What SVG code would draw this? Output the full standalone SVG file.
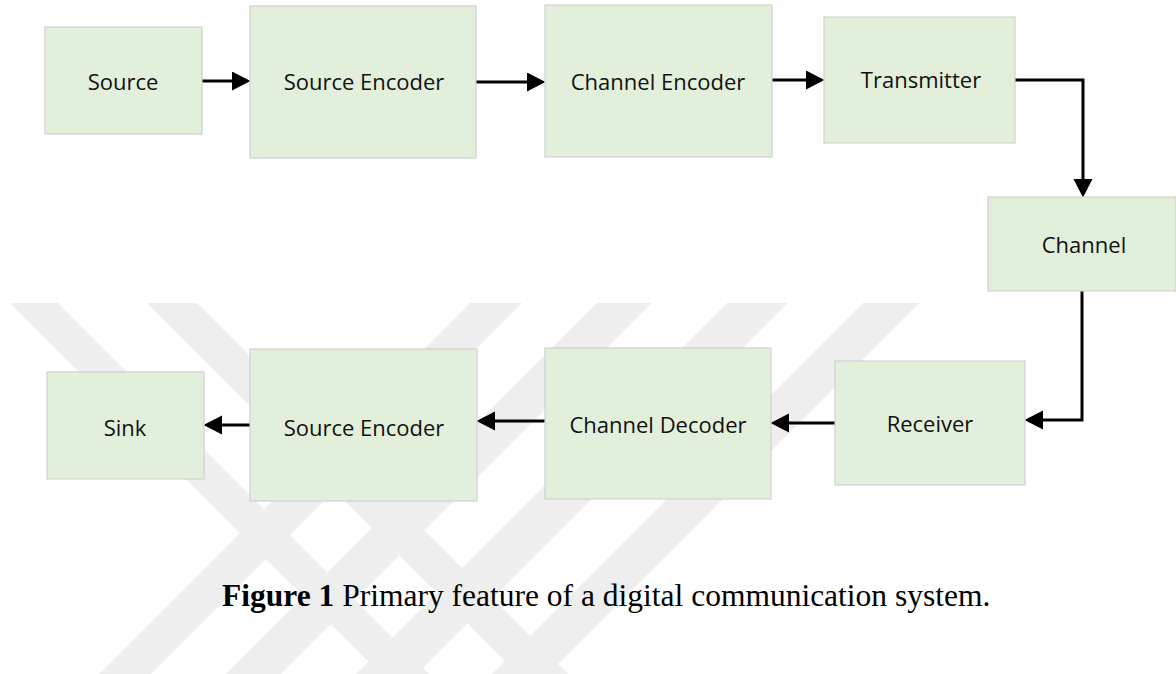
<svg xmlns="http://www.w3.org/2000/svg" width="1176" height="674" viewBox="0 0 1176 674">
  <style>
    .box { fill: #e2efda; stroke: #d0d0d0; stroke-width: 1.2; }
    .lbl { font-family: "Open Sans", "Noto Sans", sans-serif; font-size: 22px; fill: #111; text-anchor: middle; }
    .wire { fill: none; stroke: #000; stroke-width: 3; marker-end: url(#head); }
    .band { fill: #eeeeee; }
    .cap { font-family: "Liberation Serif", "Times New Roman", serif; font-size: 31.5px; fill: #000; }
  </style>
  <defs>
    <marker id="head" markerUnits="userSpaceOnUse" markerWidth="19" markerHeight="20" refX="0" refY="9.5" orient="auto">
      <path d="M0,0 L18.5,9.5 L0,19 Z" fill="#000"/>
    </marker>
  </defs>

  <rect width="1176" height="674" fill="#ffffff"/>

  <!-- background emblem: light diagonal stripes -->
  <g id="emblem">
    <polygon class="band" points="10,303 58,303 429,674 381,674"/>
    <polygon class="band" points="147,303 197,303 568,674 518,674"/>
    <polygon class="band" points="470,303 522,303 151,674 99,674"/>
    <polygon class="band" points="597,303 652,303 281,674 226,674"/>
    <polygon class="band" points="727,303 788,303 417,674 356,674"/>
    <polygon class="band" points="863,303 919,303 548,674 492,674"/>
  </g>

  <!-- connectors -->
  <g id="connectors">
    <path class="wire" d="M202,81 H232"/>
    <path class="wire" d="M476,82 H527"/>
    <path class="wire" d="M772,80 H806"/>
    <path class="wire" d="M1015,80 H1083 V179"/>
    <path class="wire" d="M1082,291 V420 H1043"/>
    <path class="wire" d="M835,423 H789"/>
    <path class="wire" d="M545,421 H495"/>
    <path class="wire" d="M250,425 H222"/>
  </g>

  <g id="source">
    <rect class="box" x="45" y="27" width="157" height="107"/>
    <text class="lbl" x="123" y="90">Source</text>
  </g>
  <g id="source-encoder">
    <rect class="box" x="250" y="6" width="226" height="152"/>
    <text class="lbl" x="364" y="90">Source Encoder</text>
  </g>
  <g id="channel-encoder">
    <rect class="box" x="545" y="5" width="227" height="152"/>
    <text class="lbl" x="658" y="90">Channel Encoder</text>
  </g>
  <g id="transmitter">
    <rect class="box" x="824" y="17" width="191" height="126"/>
    <text class="lbl" x="921" y="88">Transmitter</text>
  </g>
  <g id="channel">
    <rect class="box" x="988" y="197" width="188" height="94"/>
    <text class="lbl" x="1084" y="253">Channel</text>
  </g>
  <g id="receiver">
    <rect class="box" x="835" y="361" width="190" height="124"/>
    <text class="lbl" x="930" y="432">Receiver</text>
  </g>
  <g id="channel-decoder">
    <rect class="box" x="545" y="348" width="226" height="151"/>
    <text class="lbl" x="658" y="433">Channel Decoder</text>
  </g>
  <g id="source-decoder">
    <rect class="box" x="250" y="349" width="227" height="152"/>
    <text class="lbl" x="364" y="436">Source Encoder</text>
  </g>
  <g id="sink">
    <rect class="box" x="47" y="372" width="157" height="107"/>
    <text class="lbl" x="125" y="436">Sink</text>
  </g>

  <text class="cap" x="222" y="606"><tspan font-weight="bold">Figure 1</tspan> Primary feature of a digital communication system.</text>
</svg>
